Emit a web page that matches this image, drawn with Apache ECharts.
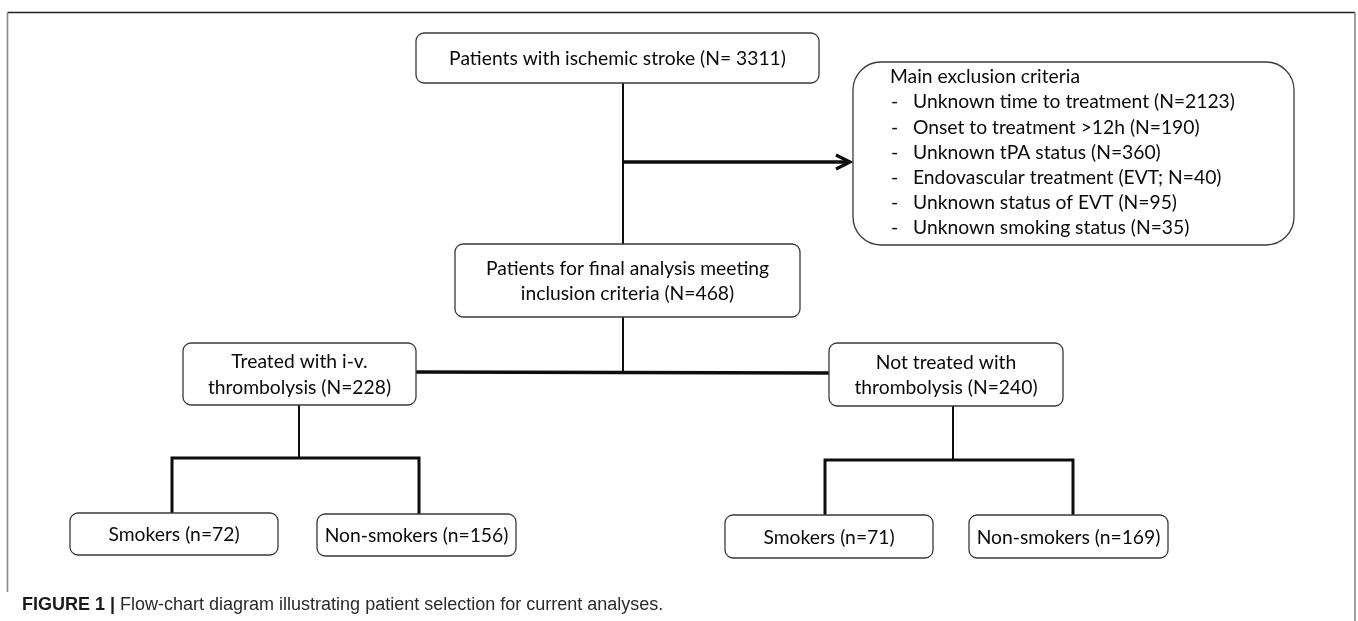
<!DOCTYPE html>
<html>
<head>
<meta charset="utf-8">
<script src="https://cdn.jsdelivr.net/npm/echarts@6/dist/echarts.min.js"></script>
<style>
  html, body { margin: 0; padding: 0; background: #ffffff; }
  #chart { width: 1358px; height: 621px; }
</style>
</head>
<body>
<div id="chart"></div>
<script>
// ---------- DATA ----------
const stageLabels = [
  'Patients with ischemic stroke',
  'Patients for final analysis meeting\ninclusion criteria',
  'Treated with i-v.\nthrombolysis',
  'Not treated with\nthrombolysis',
  'Smokers',
  'Non-smokers',
  'Smokers',
  'Non-smokers'
];
const stageCountSymbols = ['N= ', 'N=', 'N=', 'N=', 'n=', 'n=', 'n=', 'n='];
const stageCounts = [3311, 468, 228, 240, 72, 156, 71, 169];

const exclusionTitle = 'Main exclusion criteria';
const exclusionReasons = [
  'Unknown time to treatment',
  'Onset to treatment >12h',
  'Unknown tPA status',
  'Endovascular treatment',
  'Unknown status of EVT',
  'Unknown smoking status'
];
const exclusionAbbrev = ['', '', '', 'EVT', '', ''];
const exclusionCounts = [2123, 190, 360, 40, 95, 35];

const captionBold = 'FIGURE 1 |';
const captionText = 'Flow-chart diagram illustrating patient selection for current analyses.';

// ---------- LAYOUT (diagram coordinates, mapped through hidden axes) ----------
const stageBoxes = [          // [x0, y0, x1, y1]
  [416, 33, 819, 83],
  [455, 244, 800, 317],
  [183, 343, 416, 405],
  [829, 343, 1063, 406],
  [70, 513, 278, 555],
  [317, 514, 516, 556],
  [725, 515, 933, 558],
  [969, 515, 1168, 558]
];
const exclusionBox = [853, 62, 1294, 245];
const exclusionTextX = [890, 913];
const exclusionFirstY = 77;
const exclusionStep = 25.2;

const connectors = [          // polylines: points, width
  { pts: [[623, 83], [623, 244]], w: 2 },
  { pts: [[623, 162], [849, 162]], w: 3.5 },
  { pts: [[836, 155], [850, 162], [836, 169]], w: 3.2 },
  { pts: [[623, 317], [623, 373]], w: 2 },
  { pts: [[416, 372], [829, 373]], w: 3.5 },
  { pts: [[299, 405], [299, 458]], w: 2 },
  { pts: [[172, 513], [172, 458], [419, 458], [419, 514]], w: 3 },
  { pts: [[953, 406], [953, 460]], w: 2 },
  { pts: [[825, 515], [825, 460], [1073, 460], [1073, 515]], w: 3 }
];
const frameLines = [
  { pts: [[7.5, 12.5], [1355, 12.5]], w: 1.5, c: '#222222' },
  { pts: [[7.5, 12.5], [7.5, 592]], w: 1.6, c: '#8a8a8a' },
  { pts: [[1355, 12.5], [1355, 621]], w: 1.6, c: '#8a8a8a' }
];

const BOX_FONT = 'Lato, "Open Sans", sans-serif';
const BOX_SIZE = 19.3;
const TEXT_COLOR = '#0a0a0a';

function stageText(i) {
  return stageLabels[i] + ' (' + stageCountSymbols[i] + stageCounts[i] + ')';
}
function exclusionText(i) {
  const ab = exclusionAbbrev[i] ? exclusionAbbrev[i] + '; ' : '';
  return exclusionReasons[i] + ' (' + ab + 'N=' + exclusionCounts[i] + ')';
}

const chart = echarts.init(document.getElementById('chart'), null, { renderer: 'canvas' });

const option = {
  animation: false,
  backgroundColor: '#ffffff',
  grid: { left: 0, right: 0, top: 0, bottom: 0 },
  xAxis: { type: 'value', min: 0, max: 1358, show: false },
  yAxis: { type: 'value', min: 0, max: 621, inverse: true, show: false },
  title: {
    text: '{b|' + captionBold + '} {r|' + captionText + '}',
    left: 22,
    top: 596,
    padding: 0,
    textStyle: {
      rich: {
        b: { fontFamily: '"Liberation Sans", Arial, sans-serif', fontWeight: 'bold', fontSize: 18, color: '#1a1a1a' },
        r: { fontFamily: '"Liberation Sans", Arial, sans-serif', fontWeight: 'normal', fontSize: 18, color: '#2a2a2a' }
      }
    }
  },
  series: [
    {
      type: 'custom',
      name: 'frame',
      silent: true,
      data: frameLines.map((_, i) => i),
      renderItem: function (params, api) {
        const f = frameLines[params.dataIndex];
        return {
          type: 'polyline',
          shape: { points: f.pts.map(p => api.coord(p)) },
          style: { stroke: f.c, lineWidth: f.w, fill: null }
        };
      }
    },
    {
      type: 'custom',
      name: 'connectors',
      silent: true,
      data: connectors.map((_, i) => i),
      renderItem: function (params, api) {
        const c = connectors[params.dataIndex];
        return {
          type: 'polyline',
          shape: { points: c.pts.map(p => api.coord(p)) },
          style: { stroke: '#0d0d0d', lineWidth: c.w, fill: null, lineJoin: 'miter', lineCap: 'butt' }
        };
      }
    },
    {
      type: 'custom',
      name: 'stages',
      silent: true,
      data: stageCounts.map((v, i) => [i, v]),
      renderItem: function (params, api) {
        const i = params.dataIndex;
        const b = stageBoxes[i];
        const p0 = api.coord([b[0], b[1]]);
        const p1 = api.coord([b[2], b[3]]);
        return {
          type: 'group',
          children: [
            {
              type: 'rect',
              shape: { x: p0[0], y: p0[1], width: p1[0] - p0[0], height: p1[1] - p0[1], r: 8 },
              style: { fill: '#ffffff', stroke: '#3a3a3a', lineWidth: 1.3 }
            },
            {
              type: 'text',
              style: {
                text: stageText(i),
                x: (p0[0] + p1[0]) / 2,
                y: (p0[1] + p1[1]) / 2 + 1,
                align: 'center',
                verticalAlign: 'middle',
                fontFamily: BOX_FONT,
                fontSize: BOX_SIZE,
                lineHeight: 25.5,
                fill: TEXT_COLOR
              }
            }
          ]
        };
      }
    },
    {
      type: 'custom',
      name: 'exclusion',
      silent: true,
      data: [[0, exclusionCounts.reduce((a, b) => a + b, 0)]],
      renderItem: function (params, api) {
        const p0 = api.coord([exclusionBox[0], exclusionBox[1]]);
        const p1 = api.coord([exclusionBox[2], exclusionBox[3]]);
        const children = [
          {
            type: 'rect',
            shape: { x: p0[0], y: p0[1], width: p1[0] - p0[0], height: p1[1] - p0[1], r: 28 },
            style: { fill: '#ffffff', stroke: '#3a3a3a', lineWidth: 1.3 }
          }
        ];
        const t0 = api.coord([exclusionTextX[0], exclusionFirstY]);
        children.push({
          type: 'text',
          style: { text: exclusionTitle, x: t0[0], y: t0[1], align: 'left', verticalAlign: 'middle',
                   fontFamily: BOX_FONT, fontSize: BOX_SIZE, fill: TEXT_COLOR }
        });
        exclusionReasons.forEach((r, i) => {
          const yy = exclusionFirstY + exclusionStep * (i + 1);
          const d = api.coord([exclusionTextX[0], yy]);
          const t = api.coord([exclusionTextX[1], yy]);
          children.push({
            type: 'text',
            style: { text: '-', x: d[0] + 1, y: d[1], align: 'left', verticalAlign: 'middle',
                     fontFamily: BOX_FONT, fontSize: BOX_SIZE, fill: TEXT_COLOR }
          });
          children.push({
            type: 'text',
            style: { text: exclusionText(i), x: t[0], y: t[1], align: 'left', verticalAlign: 'middle',
                     fontFamily: BOX_FONT, fontSize: BOX_SIZE, fill: TEXT_COLOR }
          });
        });
        return { type: 'group', children: children };
      }
    }
  ]
};

chart.setOption(option);
</script>
</body>
</html>
